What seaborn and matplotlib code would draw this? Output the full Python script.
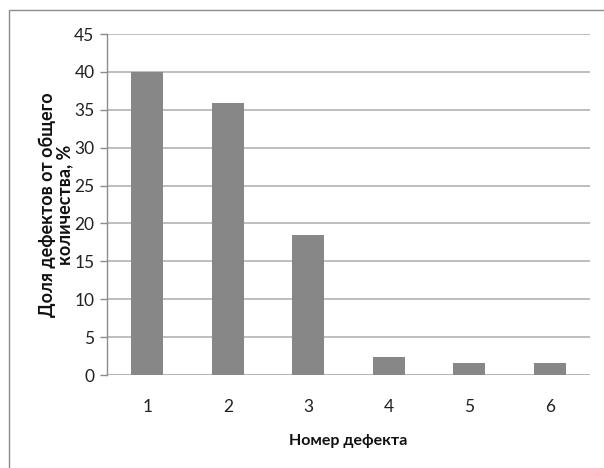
import matplotlib
matplotlib.use("Agg")
import matplotlib.pyplot as plt
import seaborn as sns
import pandas as pd
from matplotlib.patches import Rectangle

# Defect shares by defect number
defect_numbers = ["1", "2", "3", "4", "5", "6"]
defect_share = [40.0, 35.9, 18.5, 2.4, 1.6, 1.6]

y_ticks = [0, 5, 10, 15, 20, 25, 30, 35, 40, 45]

sns.set_theme(style="white")
plt.rcParams["font.family"] = ["Lato", "DejaVu Sans"]

df = pd.DataFrame({"num": defect_numbers, "share": defect_share})

fig = plt.figure(figsize=(6.04, 4.68), dpi=100)
fig.patch.set_facecolor("white")
ax = fig.add_axes([107 / 604, 1 - 375 / 468, 483 / 604, 341 / 468])

sns.barplot(data=df, x="num", y="share", color="#878787", width=0.4,
            saturation=1, ax=ax, zorder=3)
for p in ax.patches:
    p.set_edgecolor("none")

ax.set_xlim(-0.5, 5.5)
ax.set_ylim(0, 45)
ax.set_yticks(y_ticks)
ax.yaxis.grid(True, color="#b3b3b3", linewidth=1.2, zorder=0)
ax.set_axisbelow(True)

for side in ["top", "right", "bottom"]:
    ax.spines[side].set_visible(False)
ax.spines["left"].set_color("#8c8c8c")
ax.spines["left"].set_linewidth(1.0)

# Category boundary ticks on the x axis
ax.set_xticks([i - 0.5 for i in range(7)], minor=True)
ax.tick_params(axis="x", which="minor", length=6, color="#8c8c8c", width=1, direction="out")
ax.tick_params(axis="x", which="major", length=0, labelsize=12.5, pad=17, colors="#222222")
ax.tick_params(axis="y", which="major", length=5, color="#8c8c8c", width=1,
               labelsize=12.5, pad=4, colors="#222222", left=True)
ax.axhline(0, color="#b3b3b3", linewidth=1.2, zorder=1)

ax.set_xlabel("Номер дефекта", fontsize=11.5, fontweight="bold", labelpad=14, color="#111111")
ax.set_ylabel("Доля дефектов от общего\nколичества, %", fontsize=13, fontweight="bold",
              labelpad=1, color="#111111", linespacing=1.0)

# Chart area frame
fig.patches.append(Rectangle((9 / 604, -0.1), 1.2, 1 - 10 / 468 + 0.1,
                             transform=fig.transFigure, fill=False,
                             edgecolor="#8c8c8c", linewidth=1.0))

fig.savefig("out.png", dpi=100)
